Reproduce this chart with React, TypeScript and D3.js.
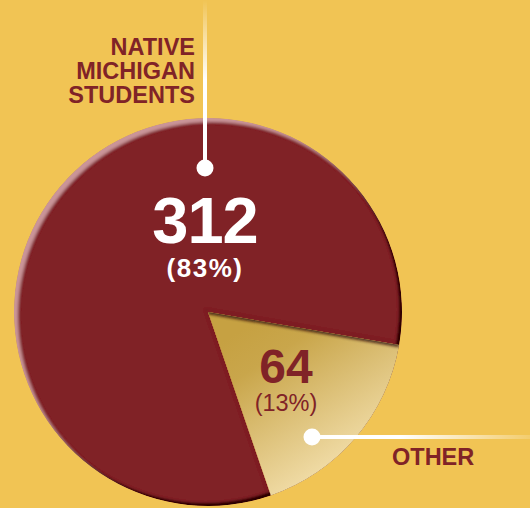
import React from "react";
import * as d3 from "d3";

const categories = ["OTHER", "NATIVE MICHIGAN STUDENTS"];
const values = [64, 312];
const percentLabels = ["(13%)", "(83%)"];
const nativeLabelLines = ["NATIVE", "MICHIGAN", "STUDENTS"];

const W = 530;
const H = 508;
const BG = "#F1C454";
const MAROON = "#802327";

export default function App() {
  const cx = 208;
  const cy = 312;
  const r = 194;
  const a0 = (99.8 * Math.PI) / 180;

  const data = categories.map((c, i) => ({ name: c, value: values[i], pct: percentLabels[i] }));
  const pie = d3
    .pie<any>()
    .sort(null)
    .value((d: any) => d.value)
    .startAngle(a0)
    .endAngle(a0 + 2 * Math.PI);
  const arcs = pie(data);
  const arc = d3.arc<any>().innerRadius(0).outerRadius(r);
  const other = arcs[0];

  const sx = Math.sin(other.startAngle) * r;
  const sy = -Math.cos(other.startAngle) * r;

  return (
    <svg
      width={W}
      height={H}
      style={{ position: "absolute", left: 0, top: 0, display: "block" }}
    >
      <defs>
        <filter id="bevel" x="-10%" y="-10%" width="120%" height="120%">
          <feGaussianBlur in="SourceAlpha" stdDeviation="1.6" result="blur" />
          <feOffset in="blur" dx="4" dy="4" result="offHL" />
          <feComposite in="SourceAlpha" in2="offHL" operator="out" result="hlMask" />
          <feFlood floodColor="#d4a0a4" floodOpacity="0.85" result="hlColor" />
          <feComposite in="hlColor" in2="hlMask" operator="in" result="hl" />
          <feGaussianBlur in="SourceAlpha" stdDeviation="1.2" result="blur2" />
          <feOffset in="blur2" dx="-3" dy="-3" result="offSh" />
          <feComposite in="SourceAlpha" in2="offSh" operator="out" result="shMask" />
          <feFlood floodColor="#1e0506" floodOpacity="0.95" result="shColor" />
          <feComposite in="shColor" in2="shMask" operator="in" result="sh" />
          <feMerge result="merged">
            <feMergeNode in="SourceGraphic" />
            <feMergeNode in="hl" />
            <feMergeNode in="sh" />
          </feMerge>
          <feComposite in="merged" in2="SourceAlpha" operator="in" />
        </filter>
        <linearGradient
          id="otherGrad"
          gradientUnits="userSpaceOnUse"
          x1={30}
          y1={20}
          x2={135}
          y2={185}
        >
          <stop offset="0" stopColor="#C6A142" />
          <stop offset="0.2" stopColor="#C9A64B" />
          <stop offset="1" stopColor="#FAE9BD" />
        </linearGradient>
        <linearGradient id="vGrad" gradientUnits="userSpaceOnUse" x1="0" y1="0" x2="0" y2="80">
          <stop offset="0" stopColor="#ffffff" stopOpacity="0" />
          <stop offset="1" stopColor="#ffffff" stopOpacity="1" />
        </linearGradient>
        <linearGradient id="hGrad" gradientUnits="userSpaceOnUse" x1="400" y1="0" x2="530" y2="0">
          <stop offset="0" stopColor="#ffffff" stopOpacity="1" />
          <stop offset="1" stopColor="#ffffff" stopOpacity="0.15" />
        </linearGradient>
        <filter id="edgeShadow" x="-20%" y="-20%" width="140%" height="140%">
          <feGaussianBlur stdDeviation="1.6" />
        </filter>
        <clipPath id="otherClip">
          <path d={arc(other) as string} transform={`translate(${cx},${cy})`} />
        </clipPath>
      </defs>

      <rect x={0} y={0} width={W} height={H} fill={BG} />

      <g transform={`translate(${cx},${cy})`}>
        <g filter="url(#bevel)">
          {arcs.map((a, i) => (
            <path key={i} d={arc(a) as string} fill={MAROON} />
          ))}
        </g>
        <path d={arc(other) as string} fill="url(#otherGrad)" />
      </g>

      <g clipPath="url(#otherClip)">
        <line
          x1={cx}
          y1={cy}
          x2={cx + sx}
          y2={cy + sy}
          stroke="#2a0808"
          strokeWidth={4}
          opacity={0.85}
          filter="url(#edgeShadow)"
        />
      </g>

      {nativeLabelLines.map((t, i) => (
        <text
          key={t}
          x={195}
          y={55 + i * 24}
          textAnchor="end"
          fontFamily="'Liberation Sans', Arial, sans-serif"
          fontWeight="bold"
          fontSize={23.5}
          fill={MAROON}
        >
          {t}
        </text>
      ))}
      <rect x={203} y={0} width={4} height={168} fill="url(#vGrad)" />
      <circle cx={205} cy={168} r={8.5} fill="#ffffff" />

      <text
        x={205}
        y={243}
        textAnchor="middle"
        fontFamily="'Liberation Sans', Arial, sans-serif"
        fontWeight="bold"
        fontSize={65}
        letterSpacing={-1}
        fill="#ffffff"
      >
        {String(values[1])}
      </text>
      <text
        x={205}
        y={277}
        textAnchor="middle"
        fontFamily="'Liberation Sans', Arial, sans-serif"
        fontWeight="bold"
        fontSize={26}
        letterSpacing={1.5}
        fill="#ffffff"
      >
        {percentLabels[1]}
      </text>

      <text
        x={286}
        y={383}
        textAnchor="middle"
        fontFamily="'Liberation Sans', Arial, sans-serif"
        fontWeight="bold"
        fontSize={48}
        fill={MAROON}
      >
        {String(values[0])}
      </text>
      <text
        x={286}
        y={411}
        textAnchor="middle"
        fontFamily="'Liberation Sans', Arial, sans-serif"
        fontSize={23.5}
        fill={MAROON}
      >
        {percentLabels[0]}
      </text>

      <rect x={312} y={435} width={218} height={4} fill="url(#hGrad)" />
      <circle cx={312} cy={437} r={8.5} fill="#ffffff" />
      <text
        x={392}
        y={465}
        fontFamily="'Liberation Sans', Arial, sans-serif"
        fontWeight="bold"
        fontSize={23.5}
        fill={MAROON}
      >
        {categories[0]}
      </text>
    </svg>
  );
}
